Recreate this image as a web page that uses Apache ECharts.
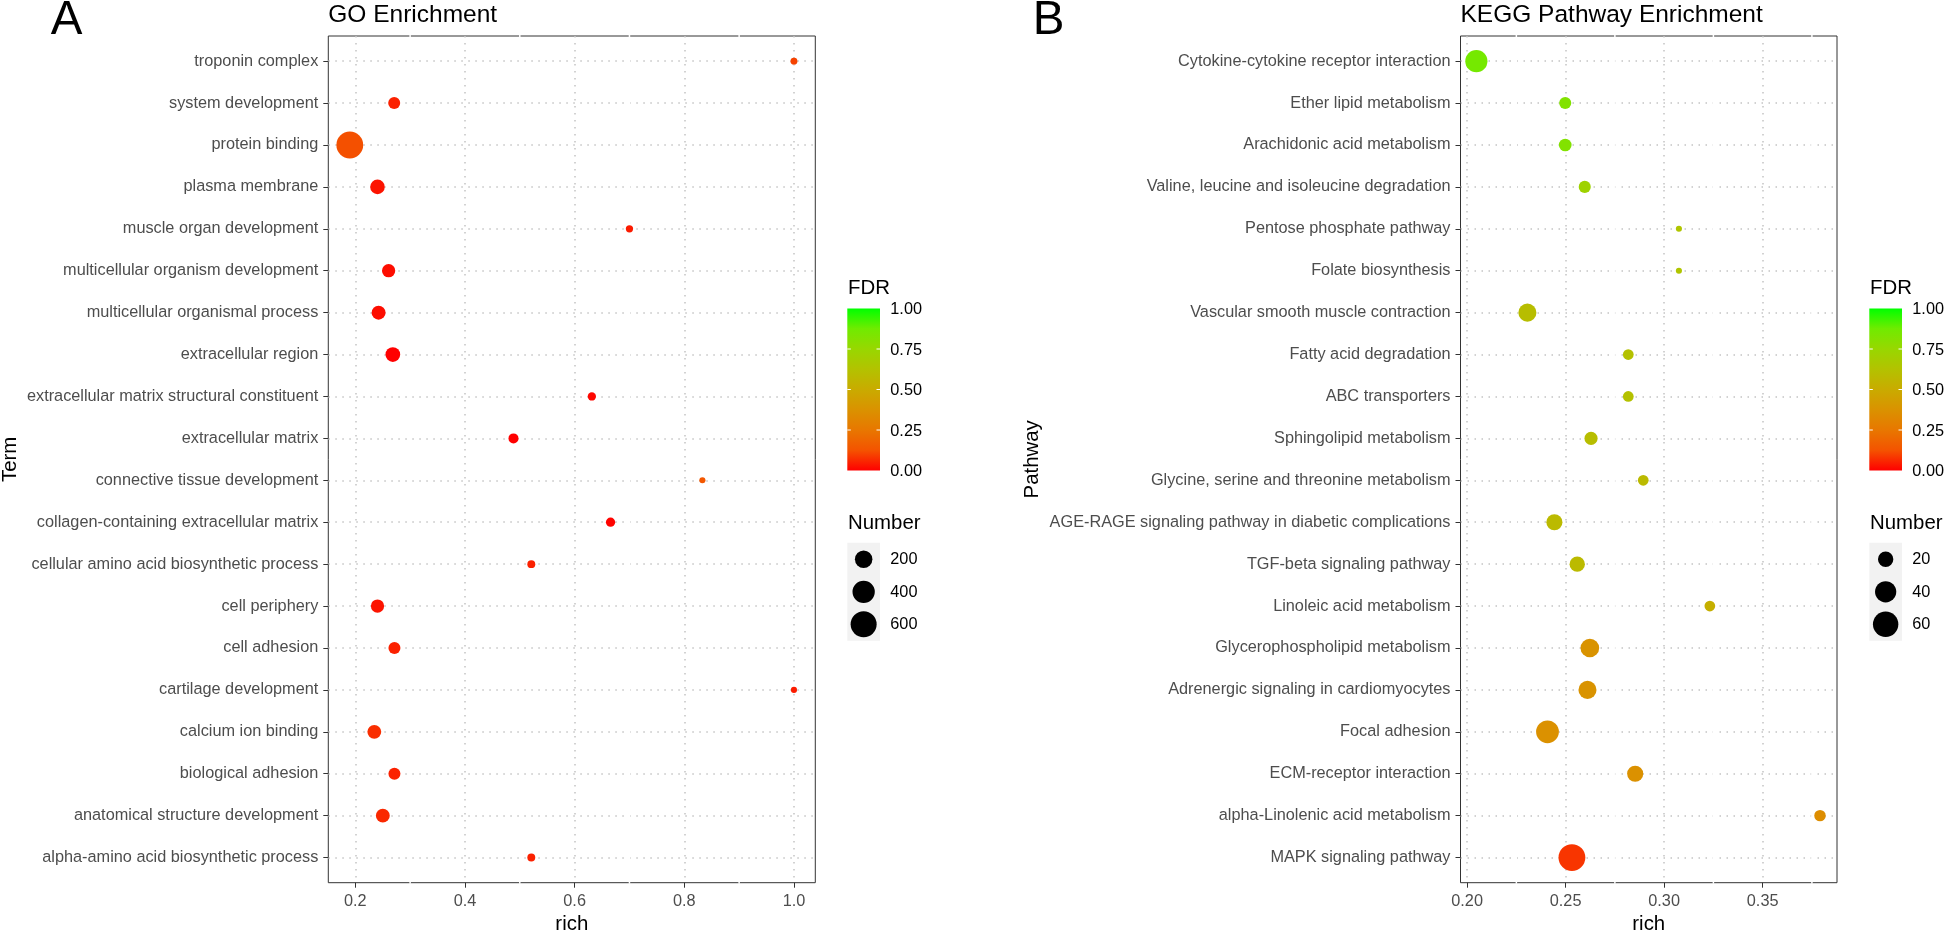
<!DOCTYPE html>
<html><head><meta charset="utf-8">
<script src="https://cdn.jsdelivr.net/npm/echarts@6/dist/echarts.min.js"></script>
<style>html,body{margin:0;padding:0;background:#fff}#c{width:1944px;height:931px}</style>
</head><body><div id="c"></div>
<script>
// ---------- GO panel data ----------
const goTerms = ['troponin complex','system development','protein binding','plasma membrane','muscle organ development','multicellular organism development','multicellular organismal process','extracellular region','extracellular matrix structural constituent','extracellular matrix','connective tissue development','collagen-containing extracellular matrix','cellular amino acid biosynthetic process','cell periphery','cell adhesion','cartilage development','calcium ion binding','biological adhesion','anatomical structure development','alpha-amino acid biosynthetic process'];
const goRich = [1.0, 0.271, 0.19, 0.2405, 0.700, 0.2608, 0.2425, 0.2685, 0.6314, 0.4885, 0.833, 0.6655, 0.521, 0.2405, 0.2714, 1.0, 0.2347, 0.2714, 0.2502, 0.521];
const goNumber = [6, 57, 650, 113, 7, 82, 98, 116, 12, 28, 5, 20, 10, 82, 57, 5, 95, 57, 95, 10];
const goFDR = [0.10, 0.05, 0.12, 0.03, 0.04, 0.02, 0.02, 0.0, 0.01, 0.0, 0.14, 0.005, 0.05, 0.03, 0.05, 0.04, 0.07, 0.05, 0.06, 0.05];
const goXTicks = [0.2, 0.4, 0.6, 0.8, 1.0];
const goXMinor = [0.3, 0.5, 0.7, 0.9];
const goSizeBreaks = [200, 400, 600];

// ---------- KEGG panel data ----------
const keggTerms = ['Cytokine-cytokine receptor interaction','Ether lipid metabolism','Arachidonic acid metabolism','Valine, leucine and isoleucine degradation','Pentose phosphate pathway','Folate biosynthesis','Vascular smooth muscle contraction','Fatty acid degradation','ABC transporters','Sphingolipid metabolism','Glycine, serine and threonine metabolism','AGE-RAGE signaling pathway in diabetic complications','TGF-beta signaling pathway','Linoleic acid metabolism','Glycerophospholipid metabolism','Adrenergic signaling in cardiomyocytes','Focal adhesion','ECM-receptor interaction','alpha-Linolenic acid metabolism','MAPK signaling pathway'];
const keggRich = [0.2047, 0.2498, 0.2498, 0.2597, 0.3075, 0.3075, 0.2306, 0.2818, 0.2818, 0.2629, 0.2894, 0.2443, 0.2559, 0.3232, 0.2623, 0.2611, 0.2408, 0.2853, 0.3791, 0.2532];
const keggNumber = [44, 13, 14, 13, 8, 8, 28, 11, 11, 15, 11, 22, 20, 11, 30, 28, 47, 22, 12, 68];
const keggFDR = [0.86, 0.82, 0.82, 0.72, 0.64, 0.64, 0.60, 0.62, 0.62, 0.60, 0.58, 0.58, 0.58, 0.52, 0.38, 0.38, 0.37, 0.37, 0.35, 0.08];
const keggXTicks = [0.20, 0.25, 0.30, 0.35];
const keggXMinor = [0.225, 0.275, 0.325, 0.375];
const keggSizeBreaks = [20, 40, 60];

const fdrBreaks = [0, 0.25, 0.5, 0.75, 1];

// ---------- styling ----------
const FONT = '"Liberation Sans", Arial, Helvetica, sans-serif';
const fdrStops = ['#FF0000','#F45300','#E87700','#DA9200','#C9AB00','#B3C200','#98D700','#70EB00','#00FF00'];
const GRID_TOP = 36, GRID_H = 846.7;
const G1 = {left: 328.3, width: 487};
const G2 = {left: 1460.5, width: 376.5};

function sizeFn(nums) {
  const lo = Math.min(...nums), hi = Math.max(...nums);
  return n => 6.12 + 20.7 * Math.sqrt(Math.max(0, (n - lo) / (hi - lo)));
}
const goSize = sizeFn(goNumber), keggSize = sizeFn(keggNumber);

const goData = goTerms.map((t, i) => [goRich[i], i, goNumber[i], goFDR[i]]);
const keggData = keggTerms.map((t, i) => [keggRich[i], i, keggNumber[i], keggFDR[i]]);

const dotted = {color: '#C4C4C4', width: 1.5, type: [1.5, 5.5]};

function xAxisCfg(gi, ticks, min, max, dec) {
  return {
    type: 'value', gridIndex: gi, min, max, position: 'bottom',
    name: 'rich', nameLocation: 'middle', nameGap: 30.5,
    nameTextStyle: {fontFamily: FONT, fontSize: 20.4, color: '#000'},
    axisLine: {show: false, onZero: false},
    axisTick: {show: true, length: 5, customValues: ticks, lineStyle: {color: '#333', width: 1}},
    axisLabel: {customValues: ticks, formatter: v => Number(v).toFixed(dec), fontFamily: FONT, fontSize: 16.3, color: '#4D4D4D', margin: 10.5},
    splitLine: {show: true, lineStyle: dotted}
  };
}
function yAxisCfg(gi, terms, name, gap) {
  const idx = terms.map((_, i) => i);
  return {
    type: 'value', gridIndex: gi, min: -0.6, max: terms.length - 0.4, inverse: true, position: 'left',
    name, nameLocation: 'middle', nameGap: gap, nameRotate: 90,
    nameTextStyle: {fontFamily: FONT, fontSize: 20.4, color: '#000'},
    axisLine: {show: false, onZero: false},
    axisTick: {show: true, length: 5, customValues: idx, lineStyle: {color: '#333', width: 1}},
    axisLabel: {customValues: idx, formatter: v => terms[Math.round(v)] || '', fontFamily: FONT, fontSize: 16.3, color: '#4D4D4D', margin: 10},
    splitLine: {show: true, lineStyle: dotted}
  };
}

function legendGraphics(x0, sizeF, breaks) {
  const els = [];
  const barTop = 308.5, barH = 162, barW = 32.7, labX = x0 + 43;
  els.push({type: 'text', style: {x: x0 + 0.7, y: 288.7, text: 'FDR', font: '20.4px ' + FONT, fill: '#000', textVerticalAlign: 'middle'}});
  els.push({type: 'rect', shape: {x: x0, y: barTop, width: barW, height: barH},
    style: {fill: new echarts.graphic.LinearGradient(0, 0, 0, 1,
      fdrStops.map((c, i) => ({offset: i / (fdrStops.length - 1), color: fdrStops[fdrStops.length - 1 - i]})))}});
  fdrBreaks.forEach(v => {
    const y = barTop + barH - v * barH;
    if (v > 0 && v < 1) {
      els.push({type: 'line', shape: {x1: x0, y1: y, x2: x0 + 3.5, y2: y}, style: {stroke: '#fff', lineWidth: 1}});
      els.push({type: 'line', shape: {x1: x0 + barW - 3.5, y1: y, x2: x0 + barW, y2: y}, style: {stroke: '#fff', lineWidth: 1}});
    }
    els.push({type: 'text', style: {x: labX, y: y + 1.5, text: v.toFixed(2), font: '16.3px ' + FONT, fill: '#000', textVerticalAlign: 'middle'}});
  });
  els.push({type: 'text', style: {x: x0 + 0.7, y: 523.3, text: 'Number', font: '20.4px ' + FONT, fill: '#000', textVerticalAlign: 'middle'}});
  els.push({type: 'rect', shape: {x: x0, y: 542.7, width: barW, height: 98}, style: {fill: '#F2F2F2'}});
  breaks.forEach((b, k) => {
    const cy = 559.3 + k * 32.5;
    els.push({type: 'circle', shape: {cx: x0 + barW / 2, cy, r: sizeF(b) / 2}, style: {fill: '#000'}});
    els.push({type: 'text', style: {x: labX, y: cy + 0.5, text: String(b), font: '16.3px ' + FONT, fill: '#000', textVerticalAlign: 'middle'}});
  });
  return els;
}

const chart = echarts.init(document.getElementById('c'), null, {renderer: 'canvas'});
const baseGraphics = [
  {type: 'text', style: {x: 50.7, y: 20.8, text: 'A', font: '47.5px ' + FONT, fill: '#000', textVerticalAlign: 'middle'}},
  {type: 'text', style: {x: 1032.7, y: 20.8, text: 'B', font: '47.5px ' + FONT, fill: '#000', textVerticalAlign: 'middle'}},
  ...legendGraphics(847.3, goSize, goSizeBreaks),
  ...legendGraphics(1869.3, keggSize, keggSizeBreaks)
];
const gridCommon = {top: GRID_TOP, height: GRID_H, show: true, borderColor: '#333', borderWidth: 1, backgroundColor: 'transparent', containLabel: false, outerBoundsMode: 'none'};
chart.setOption({
  animation: false,
  backgroundColor: '#fff',
  title: [
    {text: 'GO Enrichment', left: G1.left, top: 2.5, padding: 0, textStyle: {fontFamily: FONT, fontSize: 24.5, fontWeight: 'normal', color: '#000'}},
    {text: 'KEGG Pathway Enrichment', left: G2.left, top: 2.5, padding: 0, textStyle: {fontFamily: FONT, fontSize: 24.5, fontWeight: 'normal', color: '#000'}}
  ],
  grid: [
    Object.assign({left: G1.left, width: G1.width}, gridCommon),
    Object.assign({left: G2.left, width: G2.width}, gridCommon)
  ],
  xAxis: [
    xAxisCfg(0, goXTicks, 0.1508, 1.0389, 1),
    xAxisCfg(1, keggXTicks, 0.19665, 0.38773, 2)
  ],
  yAxis: [
    yAxisCfg(0, goTerms, 'Term', 307.5),
    yAxisCfg(1, keggTerms, 'Pathway', 418.5)
  ],
  visualMap: [
    {type: 'continuous', show: false, seriesIndex: 0, dimension: 3, min: 0, max: 1, inRange: {color: fdrStops}},
    {type: 'continuous', show: false, seriesIndex: 1, dimension: 3, min: 0, max: 1, inRange: {color: fdrStops}}
  ],
  series: [
    {type: 'scatter', xAxisIndex: 0, yAxisIndex: 0, data: goData, symbolSize: v => goSize(v[2]), itemStyle: {opacity: 1}, emphasis: {disabled: true}, z: 5},
    {type: 'scatter', xAxisIndex: 1, yAxisIndex: 1, data: keggData, symbolSize: v => keggSize(v[2]), itemStyle: {opacity: 1}, emphasis: {disabled: true}, z: 5}
  ],
  graphic: baseGraphics
});

// white minor grid lines (ggplot theme_bw minor grid), which break the panel border at minor positions
const minorEls = [];
[[0, goXMinor], [1, keggXMinor]].forEach(([ai, vals]) => {
  vals.forEach(v => {
    const px = chart.convertToPixel({xAxisIndex: ai}, v);
    minorEls.push({type: 'line', z: 3, shape: {x1: px, y1: GRID_TOP - 1, x2: px, y2: GRID_TOP + GRID_H + 1}, style: {stroke: '#fff', lineWidth: 1.5}});
  });
});
chart.setOption({graphic: baseGraphics.concat(minorEls)});
</script>
</body></html>
